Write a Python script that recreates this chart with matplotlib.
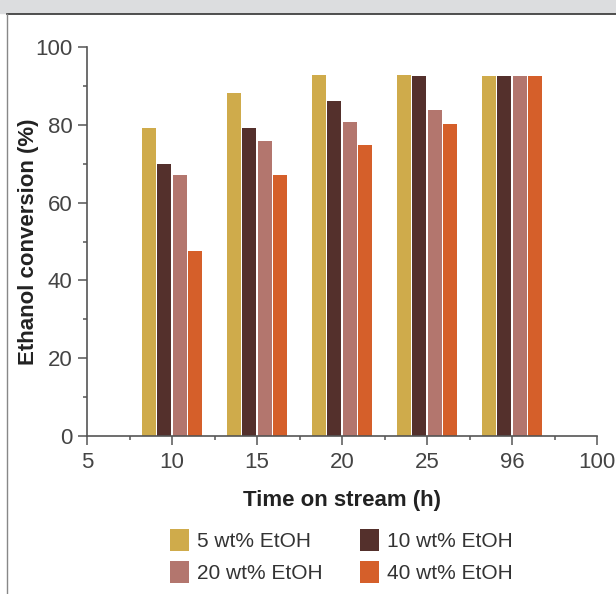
import matplotlib
matplotlib.use("Agg")
import matplotlib.pyplot as plt
import numpy as np
from matplotlib.lines import Line2D
from matplotlib.patches import Rectangle
from matplotlib.ticker import MultipleLocator

# Ethanol conversion (%)
tick_labels = ["5", "10", "15", "20", "25", "96", "100"]
group_ticks = [1, 2, 3, 4, 5]  # bars sit at the 10..96 ticks
series_names = ["5 wt% EtOH", "10 wt% EtOH", "20 wt% EtOH", "40 wt% EtOH"]
conv_5 = [79.2, 88.2, 92.8, 92.8, 92.5]
conv_10 = [70.0, 79.2, 86.1, 92.5, 92.5]
conv_20 = [67.1, 75.8, 80.7, 83.8, 92.5]
conv_40 = [47.6, 67.1, 74.8, 80.2, 92.5]
colors = ["#CFAB4B", "#54302C", "#B3766E", "#D55F2A"]

plt.rcParams["font.family"] = ["Liberation Sans", "DejaVu Sans"]

fig = plt.figure(figsize=(6.16, 5.94), dpi=100)

# gray band and frame lines at the top / left
fig.patches.append(Rectangle((0, 1 - 13 / 594), 1, 13 / 594, transform=fig.transFigure,
                             color="#DCDDDF", zorder=0))
fig.lines.append(Line2D([7 / 616, 1], [1 - 14 / 594] * 2, transform=fig.transFigure,
                        color="#333333", lw=1.2))
fig.lines.append(Line2D([7 / 616] * 2, [0, 1 - 14 / 594], transform=fig.transFigure,
                        color="#888888", lw=1.0))

ax = fig.add_axes([87 / 616, 1 - 436 / 594, 510 / 616, 389 / 594])

pitch, width = 0.183, 0.165
x = np.array(group_ticks, dtype=float)
all_series = [conv_5, conv_10, conv_20, conv_40]
bars = []
for i, (vals, name, c) in enumerate(zip(all_series, series_names, colors)):
    bars.append(ax.bar(x + (i - 1.5) * pitch, vals, width=width, color=c,
                       label=name, zorder=2))

ax.set_xlim(0, 6)
ax.set_ylim(0, 100)
ax.set_xticks(range(len(tick_labels)))
ax.set_xticklabels(tick_labels)
ax.xaxis.set_minor_locator(MultipleLocator(0.5))
ax.yaxis.set_major_locator(MultipleLocator(20))
ax.yaxis.set_minor_locator(MultipleLocator(10))

for s in ["top", "right"]:
    ax.spines[s].set_visible(False)
for s in ["left", "bottom"]:
    ax.spines[s].set_color("#555555")
    ax.spines[s].set_linewidth(1.2)

ax.tick_params(which="both", direction="out", color="#555555", width=1.1,
               labelsize=16, labelcolor="#444444")
ax.tick_params(which="major", length=6.5, pad=4)
ax.tick_params(which="minor", length=3.2)
ax.tick_params(axis="x", which="major", pad=5)

ax.set_xlabel("Time on stream (h)", fontsize=16, fontweight="bold",
              color="#222222", labelpad=12)
ax.set_ylabel("Ethanol conversion (%)", fontsize=16, fontweight="bold",
              color="#222222", labelpad=-3)

# reference fills the legend row by row
order = [0, 2, 1, 3]
ax.legend([bars[k] for k in order], [series_names[k] for k in order],
          loc="center", bbox_to_anchor=(341 / 616, 1 - 556 / 594),
          bbox_transform=fig.transFigure, ncol=2, frameon=False, fontsize=15,
          handlelength=0.91, handleheight=1.25, handletextpad=0.38,
          columnspacing=1.8, labelspacing=0.45, labelcolor="#333333")

fig.savefig("out.png", dpi=100)
